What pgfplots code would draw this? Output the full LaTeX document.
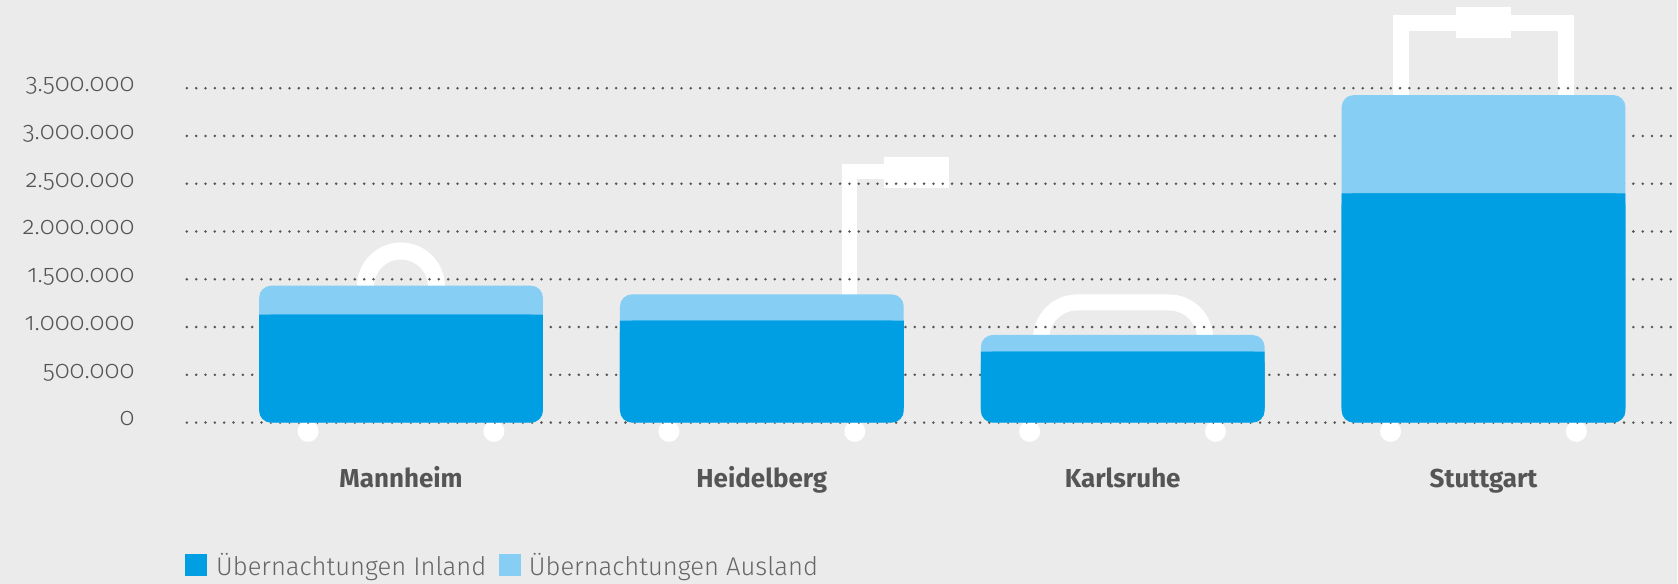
\documentclass[border=0pt]{standalone}
\usepackage{fontspec}
\setmainfont{Fira Sans}
\newfontfamily\tickfont{Fira Sans}[UprightFont={* Light}, Numbers=OldStyle]
\newfontfamily\legfont{Fira Sans}[UprightFont={* Light}]
\usepackage{pgfplots}
\usepackage{pgfplotstable}
\pgfplotsset{compat=1.18}

\definecolor{bgc}{HTML}{EBEBEB}
\definecolor{darkb}{HTML}{009FE3}
\definecolor{lightb}{HTML}{87CEF5}
\definecolor{dotc}{HTML}{555555}
\definecolor{txtc}{HTML}{555555}
\definecolor{legc}{HTML}{666666}

% Übernachtungen je Stadt
\pgfplotstableread{
x  city        inland   ausland
0  Mannheim    1129000  304000
1  Heidelberg  1066000  276000
2  Karlsruhe    743000  174000
3  Stuttgart   2400000 1028000
}\data

\pgfplotsset{frame/.style={
    at={(93.5pt,66pt)}, anchor=south west,
    scale only axis,
    width=745.5pt, height=226pt,
    xmin=-0.5935, xmax=3.535,
    ymin=-306000, ymax=4421000,
}}

\begin{document}
\begin{tikzpicture}
% background and decoration, 1 unit = 1 px of the reference, y downwards
\begin{scope}[x=0.5pt, y=-0.5pt, yshift=292pt]
\fill[bgc] (0,0) rectangle (1678,584);
% suitcase handles (behind grid and bars)
\draw[white, line width=8.5pt] (401.3,286.5) circle[radius=35.5];
\fill[white] (842.7,164) rectangle (857.7,300);
\fill[white] (842.7,164) rectangle (885,179.3);
\fill[white] (884.3,157.3) rectangle (949.3,188.3);
\draw[white, line width=8pt, rounded corners=18pt] (1042,345) -- (1042,302.5) -- (1206,302.5) -- (1206,345);
\draw[white, line width=8pt, line join=miter] (1402,100) -- (1402,23) -- (1567.5,23) -- (1567.5,100);
\fill[white] (1457,6.7) rectangle (1512.7,37.7);
% wheels
\foreach \c in {401.3,762.5,1123.5,1484.7}{
  \fill[white] (\c-93,431.5) circle[radius=10.5];
  \fill[white] (\c+93,431.5) circle[radius=10.5];
}
\end{scope}

\begin{axis}[
    frame,
    ybar, bar width=142pt, /pgf/bar shift=0pt,
    axis line style={draw=none},
    major tick length=0pt,
    scaled y ticks=false,
    ymajorgrids,
    grid style={draw=dotc, line width=1.4pt, line cap=round, dash pattern=on 0pt off 4.67pt},
    ytick={0,500000,1000000,1500000,2000000,2500000,3000000,3500000},
    yticklabels={0,500.000,1.000.000,1.500.000,2.000.000,2.500.000,3.000.000,3.500.000},
    yticklabel style={anchor=base east, inner sep=0pt, xshift=-26pt, yshift=-1.7pt,
        text=txtc, font=\tickfont\fontsize{12.5}{14}\selectfont},
    xtick={0,1,2,3},
    xticklabels={Mannheim,Heidelberg,Karlsruhe,Stuttgart},
    xticklabel style={anchor=base, inner sep=0pt, yshift=-18pt,
        text=txtc, font=\bfseries\fontsize{13}{15}\selectfont},
]
\addplot[fill=lightb, draw=none, rounded corners=6pt, bar shift=0pt]
    table[x=x, y expr=\thisrow{inland}+\thisrow{ausland}]{\data};
\addplot[fill=darkb, draw=none, rounded corners=6pt, bar shift=0pt]
    table[x=x, y=inland]{\data};
\end{axis}

% sharp upper edge of the Inland part
\begin{axis}[
    frame,
    hide axis,
    ybar stacked, bar width=142pt,
]
\addplot[draw=none, fill=none] table[x=x, y expr=150000]{\data};
\addplot[fill=darkb, draw=none] table[x=x, y expr=\thisrow{inland}-150000]{\data};
\end{axis}

% legend
\begin{scope}[x=0.5pt, y=-0.5pt, yshift=292pt]
\fill[darkb] (185,554) rectangle (207,576);
\node[anchor=base west, inner sep=0pt, text=legc, font=\legfont\fontsize{12.8}{15}\selectfont]
    at (216,576) {Übernachtungen Inland};
\fill[lightb] (499.3,554) rectangle (521.3,576);
\node[anchor=base west, inner sep=0pt, text=legc, font=\legfont\fontsize{12.8}{15}\selectfont]
    at (529,576) {Übernachtungen Ausland};
\end{scope}
\end{tikzpicture}
\end{document}
